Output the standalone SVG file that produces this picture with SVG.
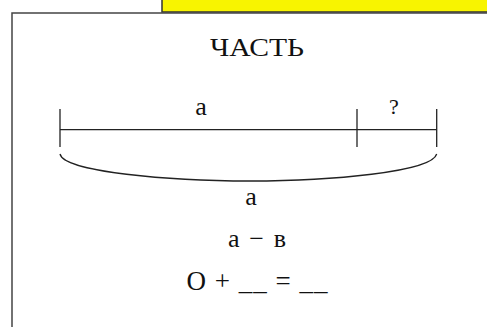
<svg xmlns="http://www.w3.org/2000/svg" width="487" height="327" viewBox="0 0 487 327">
<style>
.t{font-family:"Liberation Serif","DejaVu Serif",serif;fill:#111;text-anchor:middle}
.ln{stroke:#222;stroke-width:1.3;fill:none}
</style>
<rect width="487" height="327" fill="#fff"/>
<g id="banner"><rect x="162" y="-5" width="340" height="17" fill="#f8f400" stroke="#333" stroke-width="1.5"/></g>
<g id="frame"><rect x="12" y="13" width="490" height="330" fill="#fff" stroke="#444" stroke-width="1.5"/></g>
<g id="title"><text class="t" x="257" y="56" font-size="26" textLength="94" lengthAdjust="spacingAndGlyphs">ЧАСТЬ</text></g>
<g id="connectors">
<line class="ln" x1="60" y1="129.7" x2="436.7" y2="129.7"/>
<line class="ln" x1="60" y1="109" x2="60" y2="147"/>
<line class="ln" x1="357" y1="109" x2="357" y2="147"/>
<line class="ln" x1="436.7" y1="109" x2="436.7" y2="147"/>
<path class="ln" d="M60,154 C64,172 170,181 250,181 C330,181 432,172 436.7,154"/>
</g>
<g id="labels">
<text class="t" x="201" y="115" font-size="26">a</text>
<text class="t" x="394" y="114" font-size="22">?</text>
<text class="t" x="251" y="205" font-size="26">a</text>
<text class="t" x="257" y="247" font-size="26" textLength="58" lengthAdjust="spacing">a − в</text>
<text class="t" x="257" y="290" font-size="27" textLength="141" lengthAdjust="spacing">О + __ = __</text>
</g>
</svg>
